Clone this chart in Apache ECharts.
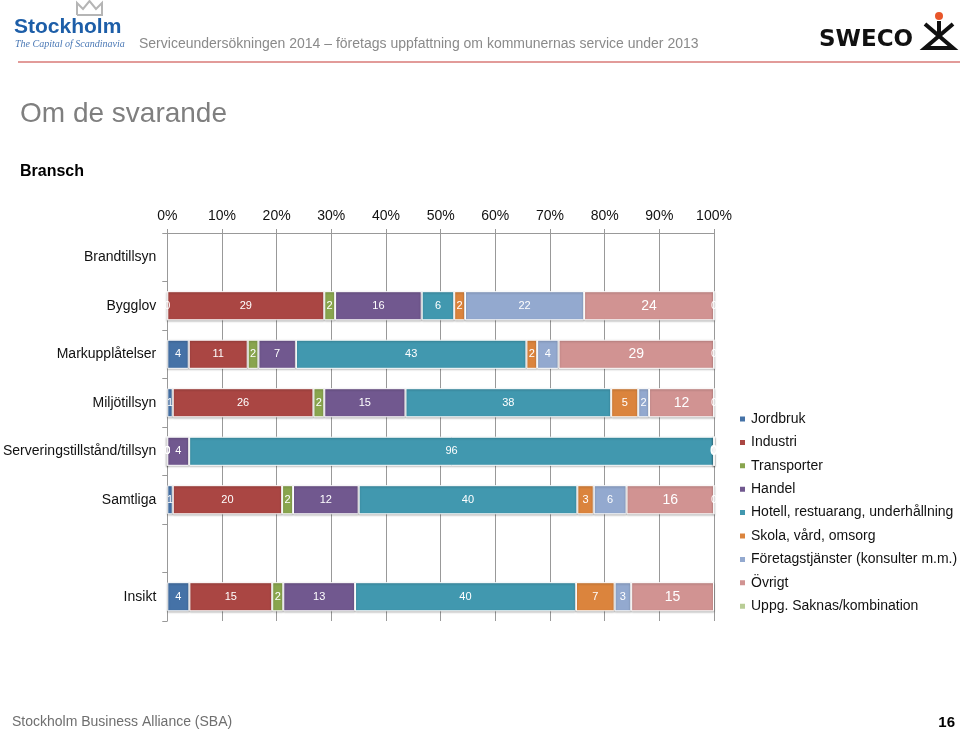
<!DOCTYPE html>
<html><head><meta charset="utf-8">
<script src="https://cdn.jsdelivr.net/npm/echarts@6/dist/echarts.min.js"></script>
<style>html,body{margin:0;padding:0;background:#fff}#c{width:960px;height:733px}</style>
</head><body><div id="c"></div>
<script>
const categories = ['Brandtillsyn','Bygglov','Markupplåtelser','Miljötillsyn','Serveringstillstånd/tillsyn','Samtliga','','Insikt'];
const seriesNames = ['Jordbruk','Industri','Transporter','Handel','Hotell, restuarang, underhållning','Skola, vård, omsorg','Företagstjänster (konsulter m.m.)','Övrigt','Uppg. Saknas/kombination'];
const jordbruk    = [null, 0,  4,  1,  0,  1, null,  4];
const industri    = [null, 29, 11, 26, 0, 20, null, 15];
const transporter = [null, 2,  2,  2,  0,  2, null,  2];
const handel      = [null, 16, 7,  15, 4, 12, null, 13];
const hotell      = [null, 6,  43, 38, 96, 40, null, 40];
const skola       = [null, 2,  2,  5,  0,  3, null,  7];
const foretag     = [null, 22, 4,  2,  0,  6, null,  3];
const ovrigt      = [null, 24, 29, 12, 0, 16, null, 15];
const uppg        = [null, 0,  0,  0,  0,  0, null, null];
const xTicks = [0,10,20,30,40,50,60,70,80,90,100];

const allSeries = [jordbruk, industri, transporter, handel, hotell, skola, foretag, ovrigt, uppg];
const colors = ['#4572A7','#AA4643','#89A54E','#71588F','#4198AF','#DB843D','#93A9CF','#D19392','#B9CD96'];
const sums = categories.map((c,i)=>allSeries.reduce((s,a)=>s+(a[i]==null?0:a[i]),0));

const FONT = '"Liberation Sans", Arial, sans-serif';
const series = allSeries.map((arr,si)=>({
  name: seriesNames[si],
  type: 'bar',
  stack: 'total',
  barWidth: '60%',
  itemStyle: {color: colors[si], borderColor: '#fff', borderWidth: 1,
    shadowColor: 'rgba(0,0,0,0.25)', shadowBlur: 2, shadowOffsetY: 1},
  label: {show: true, position: 'inside', color: '#fff', fontFamily: FONT,
    fontSize: si===7 ? 14 : 11,
    formatter: p => p.data && p.data.raw!=null ? String(p.data.raw) : ''},
  data: arr.map((v,i)=> v==null || sums[i]===0 ? null : {value: v/sums[i]*100, raw: v})
}));

const chart = echarts.init(document.getElementById('c'), null, {renderer:'canvas'});
chart.setOption({
  backgroundColor: '#fff',
  animation: false,
  textStyle: {fontFamily: FONT},
  grid: {left: 166, right: 246, top: 233, bottom: 112, containLabel: false},
  xAxis: {type: 'value', position: 'top', min: 0, max: 100, interval: 10,
    axisLine: {show: true, lineStyle: {color: '#999'}},
    axisTick: {show: true, length: 4, lineStyle: {color: '#999'}},
    axisLabel: {formatter: v => xTicks.includes(v) ? v + '%' : '', color: '#111', fontSize: 14, margin: 10, fontFamily: FONT},
    splitLine: {show: true, lineStyle: {color: '#999', width: 1}}},
  yAxis: {type: 'category', inverse: true, data: categories,
    axisLine: {show: true, lineStyle: {color: '#999'}},
    axisTick: {show: true, length: 5, lineStyle: {color: '#999'}},
    axisLabel: {color: '#111', fontSize: 14, margin: 11, fontFamily: FONT}},
  legend: {orient: 'vertical', left: 738, top: 411, padding: 0, itemWidth: 7, itemHeight: 7, itemGap: 7.4,
    itemTextGap: 3, icon: 'rect',
    textStyle: {fontSize: 14, color: '#111', lineHeight: 16, fontFamily: FONT},
    data: seriesNames},
  series: series,
  graphic: [
    // Stockholm logo
    {type:'polyline', shape:{points:[[77,15],[77,3],[83,9],[89.5,1],[96,9],[102,3],[102,15],[77,15]]}, style:{fill:'none', stroke:'#b5b5b5', lineWidth:2}},
    {type:'text', left: 14, top: 17, style:{text:'Stockholm', fill:'#1d5ea8', font:'bold 21px "Liberation Sans", Arial, sans-serif'}},
    {type:'text', left: 15, top: 39, style:{text:'The Capital of Scandinavia', fill:'#4a78b5', font:'italic 10px "Liberation Serif", serif'}},
    {type:'text', left: 139, top: 37, style:{text:'Serviceundersökningen 2014 – företags uppfattning om kommunernas service under 2013', fill:'#8a8a8a', font:'14px "Liberation Sans", Arial, sans-serif'}},
    // SWECO logo
    {type:'text', left: 819, top: 29, style:{text:'SWECO', fill:'#111', font:'bold 23px "DejaVu Sans", "Liberation Sans", sans-serif'}},
    {type:'circle', shape:{cx:939, cy:16, r:4}, style:{fill:'#e8562a'}},
    {type:'polyline', shape:{points:[[925,24],[953,48],[925,48],[953,24]]}, style:{fill:'none', stroke:'#111', lineWidth:4}},
    {type:'line', shape:{x1:939, y1:21, x2:939, y2:36}, style:{stroke:'#111', lineWidth:4}},
    // red separator line
    {type:'line', shape:{x1:18, y1:62, x2:960, y2:62}, style:{stroke:'#d97a77', lineWidth:1.5}},
    // titles
    {type:'text', left: 20, top: 100, style:{text:'Om de svarande', fill:'#7f7f7f', font:'28px "Liberation Sans", Arial, sans-serif'}},
    {type:'text', left: 20, top: 164, style:{text:'Bransch', fill:'#000', font:'bold 16px "Liberation Sans", Arial, sans-serif'}},
    // footer
    {type:'text', left: 12, top: 715, style:{text:'Stockholm Business Alliance (SBA)', fill:'#6f6f6f', font:'14px "Liberation Sans", Arial, sans-serif'}},
    {type:'text', right: 5, top: 715, style:{text:'16', fill:'#000', font:'bold 15px "Liberation Sans", Arial, sans-serif'}}
  ]
});
</script></body></html>
